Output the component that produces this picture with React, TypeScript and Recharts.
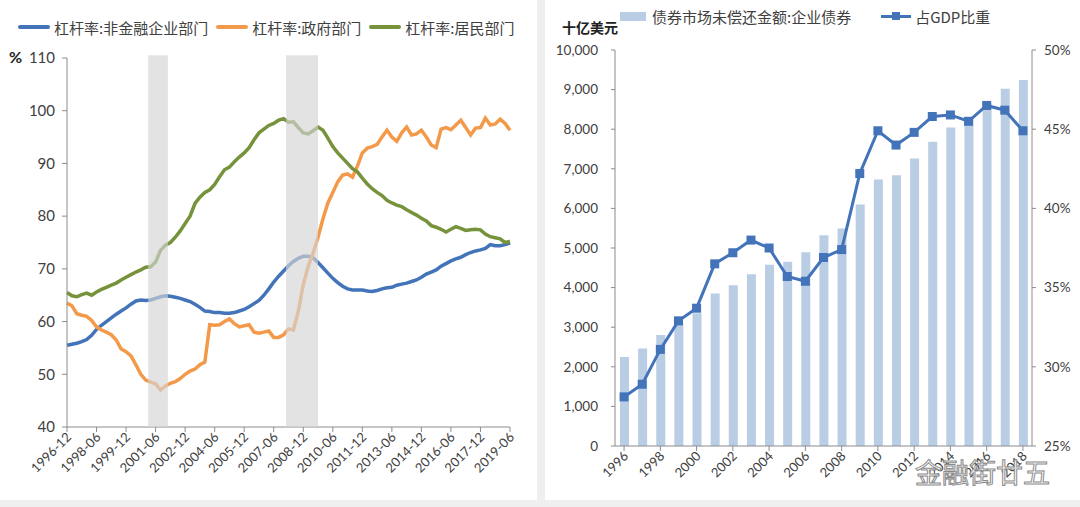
import {
  LineChart,
  Line,
  XAxis,
  YAxis,
  ReferenceArea,
  ComposedChart,
  Bar,
} from "recharts";

// quarterly leverage ratios, 1996-12 .. 2019-06 (%)
const corporate = [
  55.5, 55.7, 55.9, 56.2, 56.6, 57.4, 58.5, 59.3, 60.0, 60.7,
  61.4, 62.0, 62.6, 63.3, 63.9, 64.1, 64.0, 64.1, 64.4, 64.7,
  64.9, 64.8, 64.6, 64.4, 64.1, 63.8, 63.3, 62.7, 62.0, 61.9,
  61.7, 61.7, 61.6, 61.6, 61.7, 62.0, 62.3, 62.8, 63.4, 64.0,
  65.0, 66.2, 67.5, 68.6, 69.6, 70.6, 71.4, 72.0, 72.4, 72.4,
  72.1, 71.2, 70.2, 69.2, 68.2, 67.4, 66.7, 66.2, 66.0, 66.0,
  66.0, 65.8, 65.7, 65.9, 66.2, 66.4, 66.5, 66.9, 67.1, 67.3,
  67.6, 67.9, 68.4, 69.0, 69.4, 69.8, 70.5, 71.0, 71.5, 71.9,
  72.2, 72.7, 73.1, 73.4, 73.6, 73.9, 74.6, 74.4, 74.4, 74.6,
  74.9,
];

const government = [
  63.5, 63.0, 61.5, 61.2, 61.0, 60.2, 59.0, 58.4, 58.0, 57.5,
  56.5, 54.8, 54.3, 53.5, 51.8, 50.0, 48.9, 48.5, 48.2, 47.0,
  47.8, 48.3, 48.6, 49.2, 50.0, 50.6, 51.0, 51.8, 52.3, 59.4,
  59.3, 59.4, 60.0, 60.5, 59.6, 59.0, 59.2, 59.4, 58.0, 57.8,
  58.0, 58.2, 57.0, 57.0, 57.5, 58.6, 58.4, 62.0, 67.0, 70.5,
  73.0, 76.0, 79.5, 82.5, 84.5, 86.5, 87.8, 88.0, 87.4, 89.5,
  92.0, 92.9, 93.2, 93.6, 95.0, 96.3, 95.0, 94.2, 95.8, 96.9,
  95.4, 95.6, 96.3, 95.0, 93.5, 93.0, 96.5, 96.8, 96.4, 97.3,
  98.2, 96.8, 95.4, 96.7, 96.8, 98.6, 97.3, 97.5, 98.4, 97.6,
  96.3,
];

const household = [
  65.5, 64.9, 64.7, 65.1, 65.4, 65.0, 65.6, 66.1, 66.5, 66.9,
  67.3, 67.9, 68.4, 68.9, 69.4, 69.8, 70.3, 70.4, 71.3, 73.5,
  74.5, 75.0, 76.0, 77.2, 78.6, 80.0, 82.4, 83.6, 84.5, 85.0,
  86.0, 87.5, 88.8, 89.3, 90.3, 91.2, 92.0, 93.0, 94.5, 95.8,
  96.5, 97.2, 97.6, 98.2, 98.5, 97.8, 97.9, 96.8, 95.8, 95.6,
  96.2, 96.9, 96.3, 94.8, 93.2, 92.0, 91.0, 90.0, 89.0, 88.4,
  87.2, 86.1, 85.2, 84.5, 83.9, 83.0, 82.5, 82.1, 81.8, 81.2,
  80.7, 80.2, 79.6, 79.1, 78.2, 77.9, 77.5, 77.0, 77.5, 78.0,
  77.7, 77.3, 77.4, 77.5, 77.4, 76.6, 76.1, 75.9, 75.7, 75.0,
  75.2,
];

const quarterTicks = [
  "1996-12", "1998-06", "1999-12", "2001-06", "2002-12", "2004-06",
  "2005-12", "2007-06", "2008-12", "2010-06", "2011-12", "2013-06",
  "2014-12", "2016-06", "2017-12", "2019-06",
];

// shaded recession periods, in quarter index units
const recessions = [
  { from: 16.5, to: 20.5 },
  { from: 44.5, to: 51 },
];

const months = ["03", "06", "09", "12"];
const quarterLabel = (i: number) => {
  const k = i + 3; // 1996-12 is the 4th quarter of 1996
  return `${1996 + Math.floor(k / 4)}-${months[k % 4]}`;
};

const leverageRows = corporate.map((v, i) => ({
  i,
  q: quarterLabel(i),
  corporate: v,
  government: government[i],
  household: household[i],
}));

// corporate bonds outstanding (bn USD) and share of GDP
const years = [
  "1996", "1997", "1998", "1999", "2000", "2001", "2002", "2003",
  "2004", "2005", "2006", "2007", "2008", "2009", "2010", "2011",
  "2012", "2013", "2014", "2015", "2016", "2017", "2018",
];
const bondAmount = [
  2250, 2460, 2800, 3100, 3350, 3850, 4060, 4340, 4580, 4650,
  4890, 5320, 5490, 6100, 6730, 6840, 7260, 7680, 8040, 8300,
  8650, 9020, 9240,
];
const gdpShare = [
  28.1, 28.9, 31.1, 32.9, 33.7, 36.5, 37.2, 38.0, 37.5, 35.7,
  35.4, 36.9, 37.4, 42.2, 44.9, 44.0, 44.8, 45.8, 45.9, 45.5,
  46.5, 46.2, 44.9,
];

const bondRows = years.map((year, i) => ({
  year,
  amount: bondAmount[i],
  share: gdpShare[i],
}));

const BLUE = "#4373b9";
const ORANGE = "#f39a4a";
const GREEN = "#76933c";
const AXIS = "#8c8c8c";
const TEXT = "#404040";
const tickFont = "Lato, 'Open Sans', sans-serif";
const cjkFont = "'Noto Sans CJK SC', sans-serif";

const QuarterTick = ({ x, y, payload }: any) => (
  <text
    x={x + 5}
    y={y + 4}
    transform={`rotate(-45 ${x + 5} ${y + 4})`}
    textAnchor="end"
    fill={TEXT}
    fontSize={13}
    fontFamily={tickFont}
  >
    {quarterLabel(payload.value)}
  </text>
);

const YearTick = ({ x, y, payload }: any) => (
  <text
    x={x + 5}
    y={y + 4}
    transform={`rotate(-45 ${x + 5} ${y + 4})`}
    textAnchor="end"
    fill={TEXT}
    fontSize={13}
    fontFamily={tickFont}
  >
    {payload.value}
  </text>
);

const SquareDot = ({ cx, cy }: any) => (
  <rect x={cx - 4.5} y={cy - 4.5} width={9} height={9} fill={BLUE} />
);

const legendItem = (color: string, label: string) => (
  <span style={{ display: "inline-flex", alignItems: "center", marginRight: 8 }}>
    <span
      style={{
        display: "inline-block",
        width: 32,
        height: 4,
        borderRadius: 2,
        background: color,
        marginRight: 4,
      }}
    />
    {label}
  </span>
);

const App = () => {
  return (
    <div
      style={{
        position: "absolute",
        left: 0,
        top: 0,
        width: 1080,
        height: 507,
        background: "#efefef",
        overflow: "hidden",
      }}
    >
      {/* left panel */}
      <div
        style={{
          position: "absolute",
          left: 0,
          top: 0,
          width: 537,
          height: 500,
          background: "#fff",
        }}
      >
        <div
          style={{
            position: "absolute",
            left: 18,
            top: 12,
            fontSize: 15,
            fontFamily: cjkFont,
            color: TEXT,
            whiteSpace: "nowrap",
          }}
        >
          {legendItem(BLUE, "杠杆率:非金融企业部门")}
          {legendItem(ORANGE, "杠杆率:政府部门")}
          {legendItem(GREEN, "杠杆率:居民部门")}
        </div>
        <div
          style={{
            position: "absolute",
            left: 9,
            top: 47,
            fontSize: 16,
            fontWeight: "bold",
            fontFamily: tickFont,
            color: "#222",
          }}
        >
          %
        </div>
        <LineChart
          width={537}
          height={500}
          data={leverageRows}
          margin={{ top: 58, right: 27, bottom: 3, left: 0 }}
        >
          <XAxis
            type="number"
            dataKey="i"
            domain={[0, 90]}
            ticks={quarterTicks.map((_, k) => k * 6)}
            tick={<QuarterTick />}
            height={70}
            tickSize={5}
            axisLine={{ stroke: AXIS }}
            tickLine={{ stroke: AXIS }}
          />
          <YAxis
            domain={[40, 110]}
            ticks={[40, 50, 60, 70, 80, 90, 100, 110]}
            width={67}
            tickSize={5}
            tickMargin={7}
            axisLine={{ stroke: AXIS }}
            tickLine={{ stroke: AXIS }}
            tick={{ fill: TEXT, fontSize: 15, fontFamily: tickFont }}
          />
          <Line
            type="linear"
            dataKey="corporate"
            stroke={BLUE}
            strokeWidth={3.5}
            dot={false}
            isAnimationActive={false}
          />
          <Line
            type="linear"
            dataKey="government"
            stroke={ORANGE}
            strokeWidth={3.5}
            dot={false}
            isAnimationActive={false}
          />
          <Line
            type="linear"
            dataKey="household"
            stroke={GREEN}
            strokeWidth={3.5}
            dot={false}
            isAnimationActive={false}
          />
          {recessions.map((r) => (
            <ReferenceArea
              key={r.from}
              x1={r.from}
              x2={r.to}
              y1={40}
              y2={110.5}
              ifOverflow="visible"
              fill="#d4d4d4"
              fillOpacity={0.65}
              stroke="none"
              zIndex={1000}
            />
          ))}
        </LineChart>
      </div>

      {/* right panel */}
      <div
        style={{
          position: "absolute",
          left: 545,
          top: 0,
          width: 535,
          height: 500,
          background: "#fff",
        }}
      >
        <div
          style={{
            position: "absolute",
            left: 17,
            top: 17,
            fontSize: 14,
            fontWeight: "bold",
            fontFamily: cjkFont,
            color: "#222",
          }}
        >
          十亿美元
        </div>
        <div
          style={{
            position: "absolute",
            left: 75,
            top: 6,
            fontSize: 15,
            fontFamily: cjkFont,
            color: TEXT,
            whiteSpace: "nowrap",
            display: "flex",
            alignItems: "center",
          }}
        >
          <span
            style={{
              display: "inline-block",
              width: 26,
              height: 9,
              background: "#b9cde5",
              marginRight: 6,
            }}
          />
          债券市场未偿还金额:企业债券
          <span
            style={{
              position: "relative",
              display: "inline-block",
              width: 30,
              height: 3,
              background: BLUE,
              marginLeft: 30,
              marginRight: 4,
            }}
          >
            <span
              style={{
                position: "absolute",
                left: 11,
                top: -3,
                width: 8,
                height: 8,
                background: BLUE,
              }}
            />
          </span>
          占GDP比重
        </div>
        <ComposedChart
          width={535}
          height={500}
          data={bondRows}
          margin={{ top: 50, right: 3, bottom: 4, left: 0 }}
        >
          <XAxis
            dataKey="year"
            interval={1}
            tick={<YearTick />}
            height={50}
            tickSize={5}
            axisLine={{ stroke: AXIS }}
            tickLine={{ stroke: AXIS }}
          />
          <YAxis
            yAxisId="amt"
            domain={[0, 10000]}
            ticks={[0, 1000, 2000, 3000, 4000, 5000, 6000, 7000, 8000, 9000, 10000]}
            tickFormatter={(v: number) => v.toLocaleString("en-US")}
            width={70}
            tickSize={4}
            tickMargin={13}
            axisLine={{ stroke: AXIS }}
            tickLine={{ stroke: AXIS }}
            tick={{ fill: TEXT, fontSize: 13.5, fontFamily: tickFont }}
          />
          <YAxis
            yAxisId="pct"
            orientation="right"
            domain={[25, 50]}
            ticks={[25, 30, 35, 40, 45, 50]}
            tickFormatter={(v: number) => `${v}%`}
            width={45}
            tickSize={4}
            tickMargin={8}
            axisLine={{ stroke: AXIS }}
            tickLine={{ stroke: AXIS }}
            tick={{ fill: TEXT, fontSize: 13.5, fontFamily: tickFont }}
          />
          <Bar
            yAxisId="amt"
            dataKey="amount"
            fill="#b9cde5"
            barSize={9}
            isAnimationActive={false}
          />
          <Line
            yAxisId="pct"
            type="linear"
            dataKey="share"
            stroke={BLUE}
            strokeWidth={3}
            dot={<SquareDot />}
            isAnimationActive={false}
          />
        </ComposedChart>
        <div
          style={{
            position: "absolute",
            left: 370,
            top: 452,
            fontSize: 27,
            fontFamily: cjkFont,
            color: "rgba(255,255,255,0.85)",
            WebkitTextStroke: "1px #8a8a8a",
            whiteSpace: "nowrap",
          }}
        >
          金融街廿五
        </div>
      </div>
    </div>
  );
};

export default App;
